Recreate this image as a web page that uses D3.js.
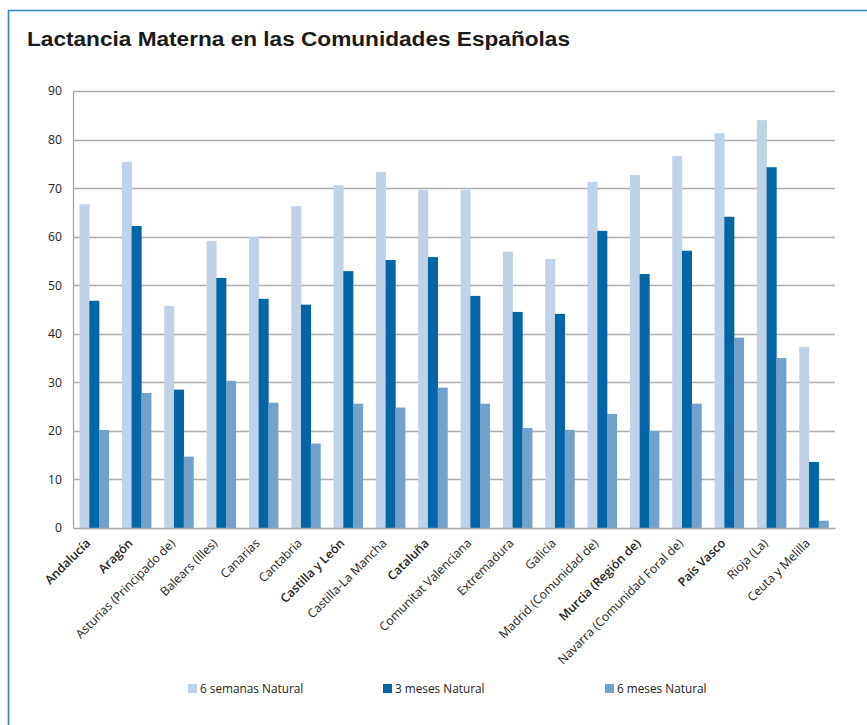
<!DOCTYPE html>
<html lang="es">
<head>
<meta charset="UTF-8">
<title>Lactancia Materna en las Comunidades Españolas</title>
<script src="https://d3js.org/d3.v7.min.js"></script>
<style>
  * { margin: 0; padding: 0; box-sizing: border-box; }
  body { background: #ffffff; width: 867px; height: 725px; overflow: hidden; }
  svg { display: block; }
  .title { font-family: "Liberation Sans", Arial, sans-serif; font-weight: bold; font-size: 20px; fill: #1a1a1a; }
  .tick text { font-family: "Open Sans", sans-serif; font-size: 12.2px; fill: #222; }
  .legend text { font-family: "Open Sans", sans-serif; font-size: 11.8px; fill: #222; }
</style>
</head>
<body>
<svg></svg>
<script>
  // Datos
  const comunidades = [
    "Andalucía", "Aragón", "Asturias (Principado de)", "Balears (Illes)", "Canarias",
    "Cantabria", "Castilla y León", "Castilla-La Mancha", "Cataluña", "Comunitat Valenciana",
    "Extremadura", "Galicia", "Madrid (Comunidad de)", "Murcia (Región de)",
    "Navarra (Comunidad Foral de)", "País Vasco", "Rioja (La)", "Ceuta y Melilla"
  ];
  const negrita = ["Andalucía", "Aragón", "Castilla y León", "Cataluña", "Murcia (Región de)", "País Vasco"];

  const seisSemanas = [66.7, 75.4, 45.7, 59.1, 59.9, 66.3, 70.6, 73.3, 69.6, 69.6, 56.9, 55.4, 71.3, 72.7, 76.6, 81.3, 84.0, 37.3];
  const tresMeses   = [46.8, 62.2, 28.5, 51.5, 47.2, 46.0, 52.9, 55.2, 55.8, 47.8, 44.5, 44.1, 61.2, 52.3, 57.1, 64.1, 74.3, 13.6];
  const seisMeses   = [20.2, 27.8, 14.7, 30.3, 25.8, 17.4, 25.6, 24.8, 28.9, 25.6, 20.6, 20.2, 23.5, 20.0, 25.6, 39.2, 35.0, 1.5];

  const series = ["6 semanas Natural", "3 meses Natural", "6 meses Natural"];
  const colores = ["#c0d2e8", "#0066a6", "#72a1cc"];
  const yTicks = [0, 10, 20, 30, 40, 50, 60, 70, 80, 90];

  const valores = [seisSemanas, tresMeses, seisMeses];
  const tabla = comunidades.map((c, i) => ({ c, v: valores.map(s => s[i]) }));

  const width = 867, height = 725;
  const margin = { left: 73, right: 32, top: 91, bottom: 197 };

  const svg = d3.select("svg").attr("width", width).attr("height", height);

  // Marco azul
  svg.append("path")
    .attr("d", `M8.5,${height} V10.5 H${width}`)
    .attr("fill", "none")
    .attr("stroke", "#2f86c3")
    .attr("stroke-width", 1.6);

  svg.append("text")
    .attr("class", "title")
    .attr("x", 27)
    .attr("y", 46)
    .attr("textLength", 543)
    .attr("lengthAdjust", "spacingAndGlyphs")
    .text("Lactancia Materna en las Comunidades Españolas");

  const x = d3.scaleBand()
    .domain(comunidades)
    .range([margin.left, width - margin.right])
    .paddingInner(0.31)
    .paddingOuter(0.155);

  const xs = d3.scaleBand()
    .domain(d3.range(series.length))
    .range([0, x.bandwidth()]);

  const y = d3.scaleLinear()
    .domain([0, 90])
    .range([height - margin.bottom, margin.top]);

  // Rejilla
  svg.append("g")
    .selectAll("line")
    .data(yTicks.filter(t => t > 0))
    .join("line")
    .attr("x1", margin.left)
    .attr("x2", width - margin.right)
    .attr("y1", d => Math.round(y(d)) + 0.5)
    .attr("y2", d => Math.round(y(d)) + 0.5)
    .attr("stroke", "#adadad")
    .attr("stroke-width", 1.3);

  // Barras
  svg.append("g")
    .selectAll("g")
    .data(tabla)
    .join("g")
    .attr("transform", d => `translate(${x(d.c)},0)`)
    .selectAll("rect")
    .data(d => d.v.map((v, k) => ({ v, k })))
    .join("rect")
    .attr("x", d => xs(d.k))
    .attr("width", xs.bandwidth() + 0.3)
    .attr("y", d => y(d.v))
    .attr("height", d => y(0) - y(d.v))
    .attr("fill", d => colores[d.k]);

  // Eje Y
  const yAxis = svg.append("g")
    .attr("transform", `translate(${margin.left},0)`)
    .call(d3.axisLeft(y).tickValues(yTicks).tickSize(0).tickPadding(11));
  yAxis.select(".domain").attr("stroke", "#a6a6a6").attr("stroke-width", 1.3);

  // Eje X
  const xAxis = svg.append("g")
    .attr("transform", `translate(0,${y(0)})`)
    .call(d3.axisBottom(x).tickSize(0).tickPadding(0));
  xAxis.select(".domain").attr("stroke", "#a6a6a6").attr("stroke-width", 1.3);
  xAxis.selectAll(".tick text")
    .attr("text-anchor", "end")
    .attr("dy", 0)
    .attr("transform", "translate(-3,16) rotate(-45)")
    .style("font-weight", d => negrita.includes(d) ? 600 : 400);

  // Leyenda
  const legendX = [188, 383, 605];
  const legend = svg.append("g").attr("class", "legend")
    .selectAll("g")
    .data(series)
    .join("g")
    .attr("transform", (d, i) => `translate(${legendX[i]},684)`);
  legend.append("rect")
    .attr("width", 9).attr("height", 9)
    .attr("fill", (d, i) => colores[i]);
  legend.append("text")
    .attr("x", 12).attr("y", 9)
    .text(d => d);
</script>
</body>
</html>
